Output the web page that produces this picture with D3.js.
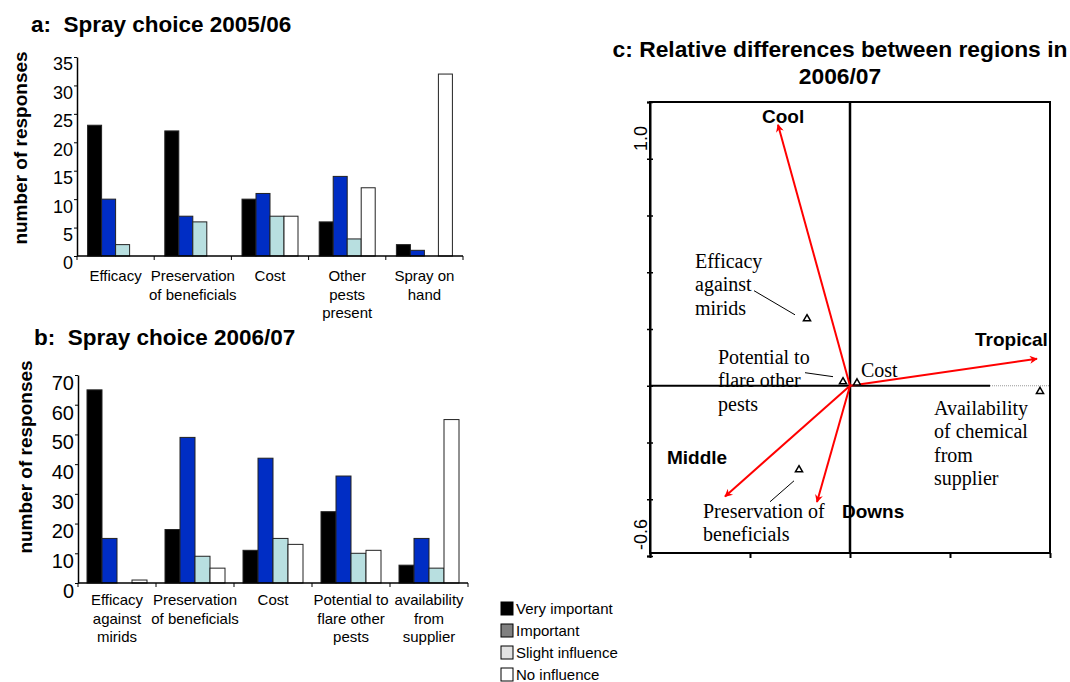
<!DOCTYPE html>
<html>
<head>
<meta charset="utf-8">
<script src="https://cdn.jsdelivr.net/npm/d3@7"></script>
<style>
body { margin: 0; background: #fff; }
text { font-family: "Liberation Sans", Arial, sans-serif; }
</style>
</head>
<body>
<div id="chart"></div>
<script>
// ---- data ----
var seriesNames = ["Very important", "Important", "Slight influence", "No influence"];
var barColors = ["#000000", "#002dc4", "#b8dfe0", "#ffffff"];
var legendColors = ["#000000", "#808080", "#e2e2e2", "#ffffff"];

// panel a: 2005/06
var catsA = ["Efficacy", "Preservation\nof beneficials", "Cost", "Other\npests\npresent", "Spray on\nhand"];
var veryA = [23, 22, 10, 6, 2];
var impA = [10, 7, 11, 14, 1];
var slightA = [2, 6, 7, 3, 0];
var noneA = [0, 0, 7, 12, 32];
var ticksA = [0, 5, 10, 15, 20, 25, 30, 35];

// panel b: 2006/07
var catsB = ["Efficacy\nagainst\nmirids", "Preservation\nof beneficials", "Cost", "Potential to\nflare other\npests", "availability\nfrom\nsupplier"];
var veryB = [65, 18, 11, 24, 6];
var impB = [15, 49, 42, 36, 15];
var slightB = [0, 9, 15, 10, 5];
var noneB = [1, 5, 13, 11, 55];
var ticksB = [0, 10, 20, 30, 40, 50, 60, 70];

// panel c: ordination biplot (axis 1, axis 2)
var regions = ["Cool", "Tropical", "Middle", "Downs"];
var regionX = [-0.36, 0.935, -0.625, -0.165];
var regionY = [0.92, 0.095, -0.39, -0.41];
var factors = ["Efficacy against mirids", "Potential to flare other pests", "Cost", "Availability of chemical from supplier", "Preservation of beneficials"];
var factorX = [-0.215, -0.035, 0.035, 0.95, -0.255];
var factorY = [0.236, 0.014, 0.01, -0.02, -0.296];
var ticksCy = [-0.6, -0.4, -0.2, 0, 0.2, 0.4, 0.6, 0.8, 1.0];
var ticksCx = [-1, -0.5, 0, 0.5, 1];

var svg = d3.select("#chart").append("svg")
    .attr("width", 1070)
    .attr("height", 682);
svg.append("rect").attr("width", 1070).attr("height", 682).attr("fill", "#fff");

function makeBarPanel(cats, values, ticks, yRange, xRange, barW, tickFont, title, titleX, titleY, labelY, labelCx, catY) {
    var g = svg.append("g");
    var y = d3.scaleLinear().domain([0, ticks[ticks.length - 1]]).range(yRange);
    var x = d3.scaleBand().domain(cats).range(xRange);
    var sub = d3.scaleBand().domain(d3.range(4)).range([0, barW * 4]);
    var off = (x.bandwidth() - barW * 4) / 2;

    // bars, one series after the other
    values.forEach(function(vals, s) {
        vals.forEach(function(v, i) {
            if (v <= 0) return;
            g.append("rect")
                .attr("x", x(cats[i]) + off + sub(s))
                .attr("y", y(v))
                .attr("width", sub.bandwidth())
                .attr("height", y(0) - y(v))
                .attr("fill", barColors[s])
                .attr("stroke", "#222")
                .attr("stroke-width", 1);
        });
    });

    // y axis
    var ax = g.append("g")
        .attr("transform", "translate(" + xRange[0] + ",0)")
        .call(d3.axisLeft(y).tickValues(ticks).tickSize(3).tickSizeOuter(0).tickPadding(1));
    ax.select(".domain").attr("stroke", "#000").attr("stroke-width", 1.5);
    ax.selectAll(".tick line").attr("stroke", "#000");
    ax.selectAll("text")
        .attr("dy", "0.72em")
        .style("font-family", "Liberation Sans, Arial, sans-serif")
        .style("font-size", tickFont + "px")
        .attr("fill", "#000");

    // x axis line and category separators
    g.append("line")
        .attr("x1", xRange[0]).attr("x2", xRange[1])
        .attr("y1", y(0)).attr("y2", y(0))
        .attr("stroke", "#000").attr("stroke-width", 1.5);
    var seps = cats.map(function(c) { return x(c); }).concat([xRange[1]]);
    g.selectAll(".sep").data(seps).enter().append("line")
        .attr("x1", function(d) { return d; }).attr("x2", function(d) { return d; })
        .attr("y1", y(0)).attr("y2", y(0) + 4)
        .attr("stroke", "#000").attr("stroke-width", 1);

    // category labels
    cats.forEach(function(c) {
        var t = g.append("text")
            .attr("x", x(c) + x.bandwidth() / 2)
            .attr("y", catY)
            .attr("text-anchor", "middle")
            .style("font-size", "15px");
        c.split("\n").forEach(function(line, j) {
            t.append("tspan")
                .attr("x", x(c) + x.bandwidth() / 2)
                .attr("dy", j == 0 ? 0 : 18.5)
                .text(line);
        });
    });

    // title
    g.append("text")
        .attr("x", titleX).attr("y", titleY)
        .style("font-size", "22.5px").style("font-weight", "bold")
        .attr("xml:space", "preserve")
        .text(title);

    // y label
    g.append("text")
        .attr("transform", "translate(" + labelCx + "," + labelY + ") rotate(-90)")
        .attr("text-anchor", "middle")
        .style("font-size", "19px").style("font-weight", "bold")
        .text("number of responses");
}

makeBarPanel(catsA, [veryA, impA, slightA, noneA], ticksA, [256, 57], [77, 463], 14, 18,
    "a:  Spray choice 2005/06", 31, 32, 148, 27, 281);
makeBarPanel(catsB, [veryB, impB, slightB, noneB], ticksB, [583, 375], [78, 468], 15, 20,
    "b:  Spray choice 2006/07", 34, 345, 457, 32, 605);

// legend
var leg = svg.append("g").attr("transform", "translate(501,602)");
seriesNames.forEach(function(n, i) {
    leg.append("rect")
        .attr("x", 0).attr("y", i * 22)
        .attr("width", 12).attr("height", 13)
        .attr("fill", legendColors[i])
        .attr("stroke", "#000").attr("stroke-width", 1);
    leg.append("text")
        .attr("x", 15).attr("y", i * 22 + 12)
        .style("font-size", "15px")
        .text(n);
});

// ---- panel c ----
var gc = svg.append("g");
var xC = d3.scaleLinear().domain([-1, 1]).range([650, 1050]);
var yC = d3.scaleLinear().domain([-0.6, 1.0]).range([556, 102]);

gc.append("text")
    .attr("x", 840).attr("y", 57)
    .attr("text-anchor", "middle")
    .style("font-size", "22.8px").style("font-weight", "bold")
    .text("c: Relative differences between regions in");
gc.append("text")
    .attr("x", 840).attr("y", 84)
    .attr("text-anchor", "middle")
    .style("font-size", "22.8px").style("font-weight", "bold")
    .text("2006/07");

// box
gc.append("rect")
    .attr("x", xC(-1)).attr("y", yC(1.0))
    .attr("width", xC(1) - xC(-1)).attr("height", yC(-0.6) - yC(1.0) - 3)
    .attr("fill", "none").attr("stroke", "#000").attr("stroke-width", 2);

// left axis ticks
var axL = gc.append("g")
    .attr("transform", "translate(" + xC(-1) + ",0)")
    .call(d3.axisLeft(yC).tickValues(ticksCy).tickSize(3).tickFormat(""));
axL.select(".domain").attr("stroke", "#000").attr("stroke-width", 2);
axL.selectAll(".tick line").attr("x2", -3).attr("x1", 3).attr("stroke", "#000").attr("stroke-width", 1.5);

// bottom axis ticks
var axB = gc.append("g")
    .attr("transform", "translate(0," + (yC(-0.6) - 3) + ")")
    .call(d3.axisBottom(xC).tickValues(ticksCx).tickSize(5).tickFormat(""));
axB.select(".domain").remove();
axB.selectAll(".tick line").attr("stroke", "#000").attr("stroke-width", 2);

gc.append("text")
    .attr("transform", "translate(" + 647 + "," + (yC(1.0) + 24) + ") rotate(-90)")
    .attr("text-anchor", "end")
    .style("font-size", "18px")
    .text("1.0");
gc.append("text")
    .attr("transform", "translate(" + 647 + "," + (yC(-0.6) - 6) + ") rotate(-90)")
    .attr("text-anchor", "start")
    .style("font-size", "18px")
    .text("-0.6");

// zero lines
gc.append("line")
    .attr("x1", xC(-1)).attr("x2", xC(0.7))
    .attr("y1", yC(0)).attr("y2", yC(0))
    .attr("stroke", "#000").attr("stroke-width", 2);
gc.append("line")
    .attr("x1", xC(0.7)).attr("x2", xC(1))
    .attr("y1", yC(0)).attr("y2", yC(0))
    .attr("stroke", "#999").attr("stroke-width", 1).attr("stroke-dasharray", "1,1");
gc.append("line")
    .attr("x1", xC(0)).attr("x2", xC(0))
    .attr("y1", yC(1.0)).attr("y2", yC(-0.6) - 3)
    .attr("stroke", "#000").attr("stroke-width", 2.5);

// arrows
svg.append("defs").append("marker")
    .attr("id", "arrowRed")
    .attr("viewBox", "0 0 10 10")
    .attr("refX", 9).attr("refY", 5)
    .attr("markerWidth", 11).attr("markerHeight", 8)
    .attr("markerUnits", "userSpaceOnUse")
    .attr("orient", "auto")
    .append("path")
    .attr("d", "M0,0 L10,5 L0,10 L3,5 Z")
    .attr("fill", "#ff0000");

regions.forEach(function(r, i) {
    gc.append("line")
        .attr("x1", xC(0)).attr("y1", yC(0))
        .attr("x2", xC(regionX[i])).attr("y2", yC(regionY[i]))
        .attr("stroke", "#ff0000").attr("stroke-width", 2)
        .attr("marker-end", "url(#arrowRed)");
});

// factor points
var tri = d3.symbol().type(d3.symbolTriangle).size(22);
factors.forEach(function(f, i) {
    gc.append("path")
        .attr("d", tri())
        .attr("transform", "translate(" + xC(factorX[i]) + "," + yC(factorY[i]) + ")")
        .attr("fill", "#fff").attr("stroke", "#000").attr("stroke-width", 1.5);
});

// region labels (placement in plot units)
var regionLabelPos = [[-0.44, 0.927], [0.625, 0.141], [-0.915, -0.275], [-0.04, -0.465]];
regions.forEach(function(r, i) {
    gc.append("text")
        .attr("x", xC(regionLabelPos[i][0])).attr("y", yC(regionLabelPos[i][1]))
        .style("font-size", "19px").style("font-weight", "bold")
        .text(r);
});

// factor labels and leaders
var factorLines = [["Efficacy", "against", "mirids"], ["Potential to", "flare other", "pests"], ["Cost"],
    ["Availability", "of chemical", "from", "supplier"], ["Preservation of", "beneficials"]];
var factorLabelPos = [[-0.775, 0.416], [-0.66, 0.0775], [0.055, 0.032], [0.42, -0.102], [-0.735, -0.465]];
var leaders = [[[-0.48, 0.335], [-0.275, 0.25]], [[-0.225, 0.046], [-0.085, 0.032]], null, null,
    [[-0.4, -0.409], [-0.28, -0.335]]];
factorLines.forEach(function(lines, i) {
    var t = gc.append("text")
        .attr("x", xC(factorLabelPos[i][0])).attr("y", yC(factorLabelPos[i][1]))
        .style("font-family", "Liberation Serif, Times New Roman, serif")
        .style("font-size", "20px");
    lines.forEach(function(l, j) {
        t.append("tspan").attr("x", xC(factorLabelPos[i][0])).attr("dy", j == 0 ? 0 : 23.5).text(l);
    });
    if (leaders[i]) {
        gc.append("line")
            .attr("x1", xC(leaders[i][0][0])).attr("y1", yC(leaders[i][0][1]))
            .attr("x2", xC(leaders[i][1][0])).attr("y2", yC(leaders[i][1][1]))
            .attr("stroke", "#000").attr("stroke-width", 1);
    }
});
</script>
</body>
</html>
